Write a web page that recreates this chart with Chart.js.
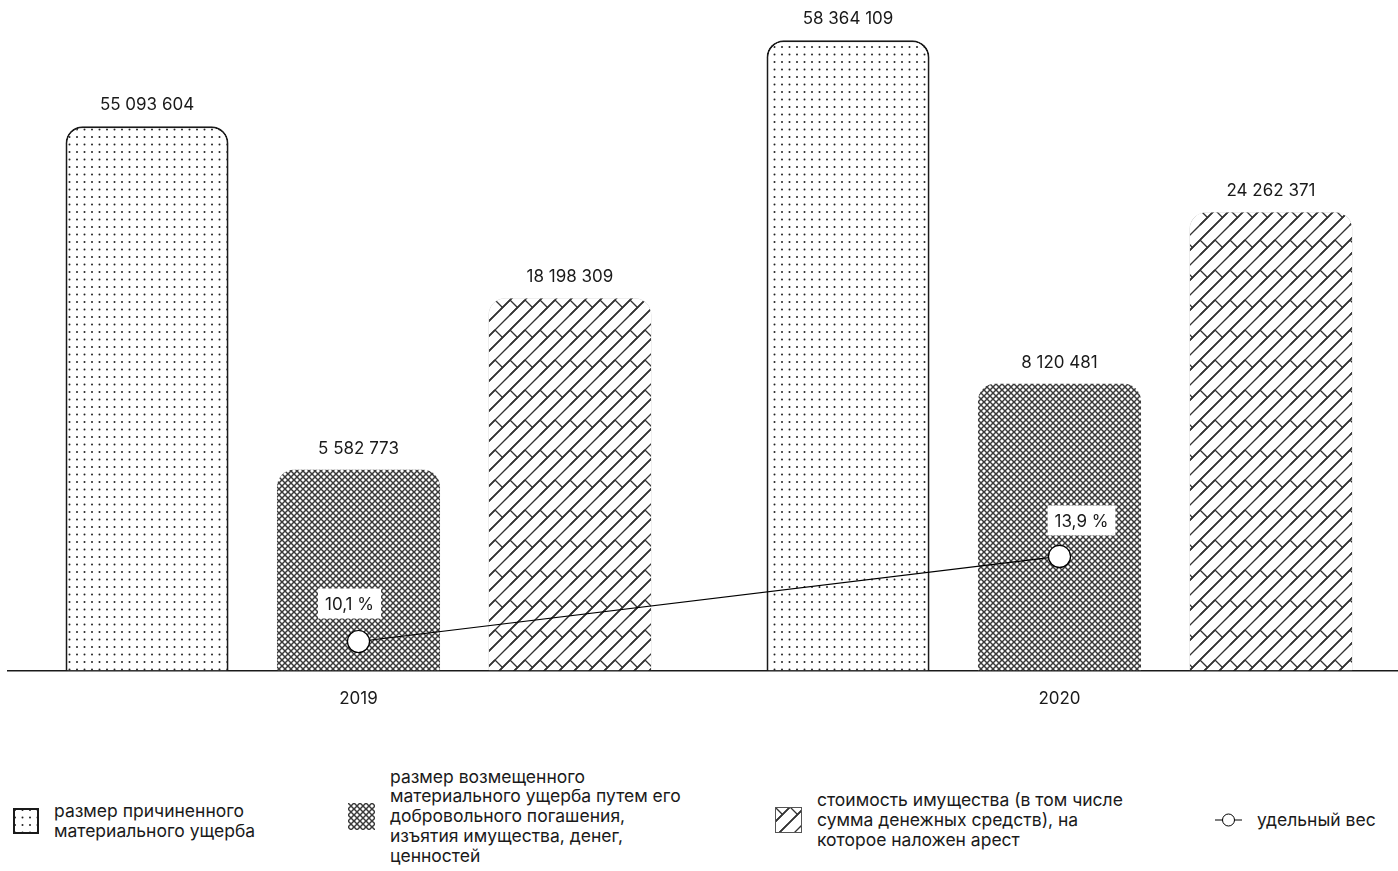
<!DOCTYPE html>
<html lang="ru">
<head>
<meta charset="utf-8">
<title>Материальный ущерб</title>
<script src="https://cdn.jsdelivr.net/npm/chart.js@4/dist/chart.umd.min.js"></script>
<style>
    html, body { margin: 0; padding: 0; background: #fff; }
    body { width: 1398px; height: 871px; overflow: hidden; position: relative; font-family: Inter, "Noto Sans", sans-serif; color: #1a1a1a; }
    #wrap { position: absolute; left: 0; top: 0; width: 1412px; height: 738px; }
    #chart { width: 1412px; height: 738px; }
    .legend-item { position: absolute; height: 120px; display: flex; align-items: center; gap: 15px; font-size: 17.5px; line-height: 19.7px; }
    .legend-item canvas { display: block; flex: none; }
</style>
</head>
<body>
<div id="wrap"><canvas id="chart" width="1412" height="738"></canvas></div>

<div class="legend-item" style="left: 13px; top: 761px;">
    <canvas id="sw-dots" width="26" height="26"></canvas>
    <div>размер причиненного<br>материального ущерба</div>
</div>
<div class="legend-item" style="left: 348px; top: 756px;">
    <canvas id="sw-cross" width="27" height="27"></canvas>
    <div>размер возмещенного<br>материального ущерба путем его<br>добровольного погашения,<br>изъятия имущества, денег,<br>ценностей</div>
</div>
<div class="legend-item" style="left: 775px; top: 760px;">
    <canvas id="sw-weave" width="27" height="26"></canvas>
    <div>стоимость имущества (в том числе<br>сумма денежных средств), на<br>которое наложен арест</div>
</div>
<div class="legend-item" style="left: 1215px; top: 760px;">
    <canvas id="sw-line" width="27" height="14"></canvas>
    <div>удельный вес</div>
</div>

<script>
// Данные
const years = ['2019', '2020'];
const damage = [55093604, 58364109];        // размер причиненного материального ущерба
const compensated = [5582773, 8120481];     // размер возмещенного ущерба
const seized = [18198309, 24262371];        // стоимость имущества под арестом
const share = [10.1, 13.9];                 // удельный вес, %

const seriesNames = [
    'размер причиненного материального ущерба',
    'размер возмещенного материального ущерба путем его добровольного погашения, изъятия имущества, денег, ценностей',
    'стоимость имущества (в том числе сумма денежных средств), на которое наложен арест'
];

// В оригинале столбцы не в масштабе: высота идет по рангу значения (равный шаг)
const allValues = [...damage, ...compensated, ...seized].sort((a, b) => a - b);
function level(v) {
    return allValues.indexOf(v) + 1 + 1.34;
}

function fmtNumber(v) {
    return String(v).replace(/\B(?=(\d{3})+(?!\d))/g, ' ');
}
function fmtPercent(v) {
    return v.toFixed(1).replace('.', ',') + ' %';
}

// Тайлы для заливок
function makeTile(kind) {
    const c = document.createElement('canvas');
    const g = c.getContext('2d');
    if (kind === 'dots') {
        c.width = 15; c.height = 15;
        g.fillStyle = '#fff'; g.fillRect(0, 0, 15, 15);
        g.fillStyle = '#222';
        [[2, 2], [9.5, 2], [2, 9.5], [9.5, 9.5]].forEach(p => {
            g.beginPath(); g.arc(p[0], p[1], 1, 0, Math.PI * 2); g.fill();
        });
    } else if (kind === 'cross') {
        c.width = 6; c.height = 6;
        g.fillStyle = '#fff'; g.fillRect(0, 0, 6, 6);
        g.strokeStyle = '#3a3a3a';
        g.lineWidth = 1.5;
        for (let dx = -6; dx <= 6; dx += 6) {
            g.beginPath(); g.moveTo(dx, 0); g.lineTo(dx + 6, 6); g.stroke();
            g.beginPath(); g.moveTo(dx + 6, 0); g.lineTo(dx, 6); g.stroke();
        }
        g.fillStyle = '#fff';
        g.fillRect(0, 2.5, 1, 1); g.fillRect(5, 2.5, 1, 1);
    } else if (kind === 'weave') {
        const s = 30;
        c.width = s; c.height = s;
        g.fillStyle = '#fff'; g.fillRect(0, 0, s, s);
        g.strokeStyle = '#333';
        g.lineWidth = 1.3;
        for (let ox = -s; ox <= s; ox += s) {
            for (let oy = -s; oy <= s; oy += s) {
                for (let k = 0; k <= 60; k += 15) {
                    g.beginPath(); g.moveTo(ox + k, oy); g.lineTo(ox, oy + k); g.stroke();
                }
                g.beginPath(); g.moveTo(ox, oy); g.lineTo(ox + 7.5, oy + 7.5); g.stroke();
                g.beginPath(); g.moveTo(ox + 15, oy); g.lineTo(ox + 22.5, oy + 7.5); g.stroke();
            }
        }
    }
    return c;
}

const tiles = { dots: makeTile('dots'), cross: makeTile('cross'), weave: makeTile('weave') };
const chartCtx = document.getElementById('chart').getContext('2d');
const patterns = {
    dots: chartCtx.createPattern(tiles.dots, 'repeat'),
    cross: chartCtx.createPattern(tiles.cross, 'repeat'),
    weave: chartCtx.createPattern(tiles.weave, 'repeat')
};

// Подписи значений и процентов
const percentOffsets = [[-9, -38], [22, -36]];
const valueLabels = {
    id: 'valueLabels',
    afterDatasetsDraw(chart) {
        const ctx = chart.ctx;
        ctx.save();
        ctx.font = '17px Inter, "Noto Sans", sans-serif';
        ctx.textAlign = 'center';
        ctx.textBaseline = 'middle';
        chart.data.datasets.forEach((ds, i) => {
            const meta = chart.getDatasetMeta(i);
            meta.data.forEach((el, j) => {
                if (ds.type === 'line') {
                    const txt = fmtPercent(ds.data[j]);
                    const x = el.x + percentOffsets[j][0];
                    const y = el.y + percentOffsets[j][1];
                    const w = ctx.measureText(txt).width + 14;
                    ctx.fillStyle = '#fff';
                    ctx.fillRect(x - w / 2, y - 15, w, 30);
                    ctx.fillStyle = '#1a1a1a';
                    ctx.fillText(txt, x, y + 1);
                } else {
                    ctx.fillStyle = '#1a1a1a';
                    ctx.fillText(fmtNumber(ds.raw[j]), el.x, el.y - 21);
                }
            });
        });
        ctx.restore();
    }
};

const barCommon = {
    type: 'bar',
    yAxisID: 'y',
    order: 1,
    borderRadius: { topLeft: 17, topRight: 17, bottomLeft: 0, bottomRight: 0 },
    borderSkipped: 'bottom',
    categoryPercentage: 0.905,
    barPercentage: 0.771
};

new Chart(chartCtx, {
    data: {
        labels: years,
        datasets: [
            {
                ...barCommon,
                label: seriesNames[0],
                raw: damage,
                data: damage.map(level),
                backgroundColor: patterns.dots,
                borderColor: '#1a1a1a',
                borderWidth: 2
            },
            {
                ...barCommon,
                label: seriesNames[1],
                raw: compensated,
                data: compensated.map(level),
                backgroundColor: patterns.cross,
                borderWidth: 0
            },
            {
                ...barCommon,
                label: seriesNames[2],
                raw: seized,
                data: seized.map(level),
                backgroundColor: patterns.weave,
                borderColor: '#bbb',
                borderWidth: 0.5
            },
            {
                type: 'line',
                label: 'удельный вес',
                yAxisID: 'y2',
                order: 0,
                data: share,
                borderColor: '#000',
                borderWidth: 1.2,
                pointRadius: 11,
                pointBackgroundColor: '#fff',
                pointBorderColor: '#000',
                pointBorderWidth: 1.2,
                tension: 0
            }
        ]
    },
    options: {
        responsive: false,
        animation: false,
        devicePixelRatio: 1,
        layout: { autoPadding: false, padding: { left: 8, right: 2, top: 0, bottom: 11 } },
        plugins: {
            legend: { display: false },
            tooltip: { enabled: false }
        },
        scales: {
            x: {
                type: 'category',
                offset: true,
                grid: { display: false, drawTicks: false },
                border: { display: true, color: '#1a1a1a', width: 1.5 },
                ticks: {
                    padding: 18,
                    color: '#1a1a1a',
                    font: { family: 'Inter, "Noto Sans", sans-serif', size: 17 }
                }
            },
            y: { display: false, min: 0, max: 7.81 },
            y2: { display: false, min: 8.8, max: 38.76 }
        }
    },
    plugins: [valueLabels]
});

// Легенда
function drawSwatch(id, tile, border) {
    const cv = document.getElementById(id);
    const g = cv.getContext('2d');
    g.fillStyle = g.createPattern(tile, 'repeat');
    g.fillRect(0, 0, cv.width, cv.height);
    if (border) {
        g.strokeStyle = border.color;
        g.lineWidth = border.width;
        g.strokeRect(border.width / 2, border.width / 2, cv.width - border.width, cv.height - border.width);
    }
}
drawSwatch('sw-dots', tiles.dots, { color: '#1a1a1a', width: 2 });
drawSwatch('sw-cross', tiles.cross, null);
drawSwatch('sw-weave', tiles.weave, { color: '#555', width: 1 });

(function () {
    const g = document.getElementById('sw-line').getContext('2d');
    g.strokeStyle = '#000';
    g.lineWidth = 1;
    g.beginPath(); g.moveTo(0, 7); g.lineTo(27, 7); g.stroke();
    g.fillStyle = '#fff';
    g.beginPath(); g.arc(13.5, 7, 6, 0, Math.PI * 2); g.fill(); g.stroke();
})();
</script>
</body>
</html>
